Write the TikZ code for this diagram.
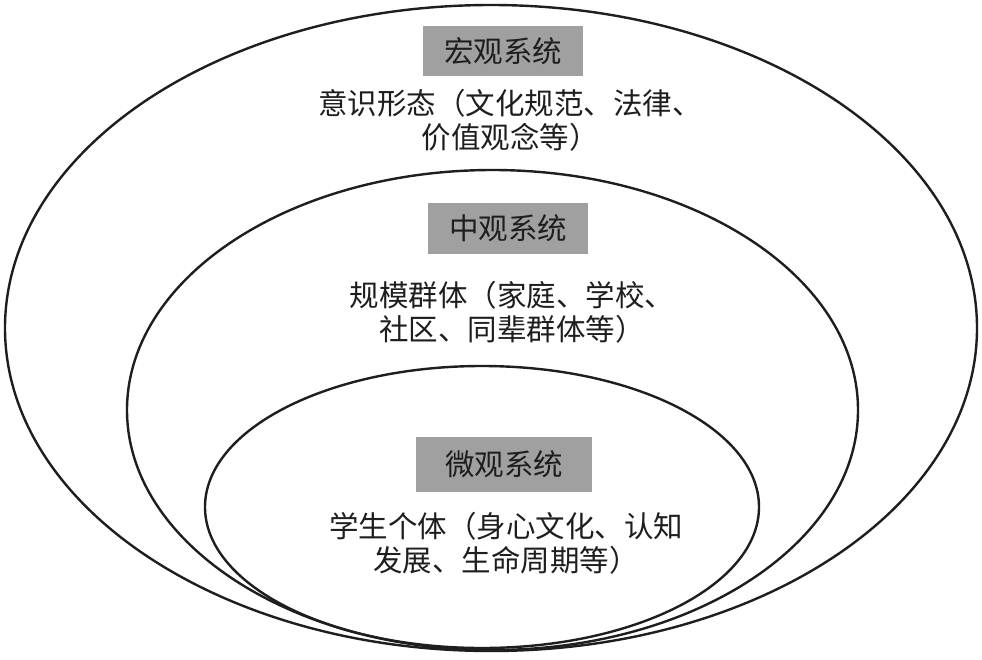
\documentclass[tikz,border=0pt]{standalone}
\usepackage{fontspec}
\newfontfamily\cjk{Noto Sans CJK SC}
\definecolor{boxgray}{RGB}{160,160,160}
\definecolor{ink}{RGB}{30,30,30}
\begin{document}
\begin{tikzpicture}[x=1pt,y=-1pt,
  ring/.style={line width=2.4pt, draw=ink},
  sysbox/.style={fill=boxgray, inner sep=0pt, text=ink, font=\cjk\fontsize{29.5}{34}\selectfont},
  desc/.style={align=center, inner sep=0pt, text=ink, font=\cjk\fontsize{29.5}{34}\selectfont}]
\useasboundingbox (0,0) rectangle (982,659);
\fill[white] (0,0) rectangle (982,659);
% rings
\draw[ring] (491,328) ellipse [x radius=486pt, y radius=323pt];
\draw[ring] (492.5,410) ellipse [x radius=365.5pt, y radius=240pt];
\draw[ring] (482,507) ellipse [x radius=277pt, y radius=141pt];
% macro
\node[sysbox, minimum width=160pt, minimum height=50pt] (macro) at (503,51) {宏观系统};
\node[desc] (macrotext) at (510,120) {意识形态（文化规范、法律、\\价值观念等）};
% meso
\node[sysbox, minimum width=160pt, minimum height=51pt] (meso) at (508,228) {中观系统};
\node[desc] (mesotext) at (512,312) {规模群体（家庭、学校、\\社区、同辈群体等）};
% micro
\node[sysbox, minimum width=176pt, minimum height=55pt] (micro) at (504,464) {微观系统};
\node[desc] (microtext) at (506,543) {学生个体（身心文化、认知\\发展、生命周期等）};
\end{tikzpicture}
\end{document}
